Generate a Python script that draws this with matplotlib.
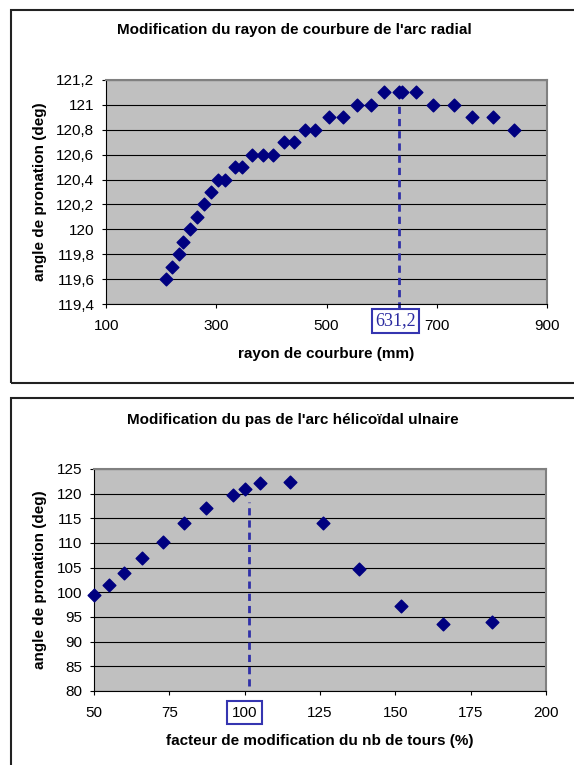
import matplotlib
matplotlib.use("Agg")
import matplotlib.pyplot as plt
from matplotlib.patches import Rectangle

plt.rcParams['font.family'] = ['Liberation Sans', 'DejaVu Sans']
plt.rcParams['font.size'] = 11

# --- graphe 1 : rayon de courbure de l'arc radial ---
rayon = [208, 220, 233, 240, 252, 265, 278, 290, 303, 316, 333, 347, 365, 385, 403, 422,
         441, 460, 479, 504, 530, 555, 581, 605, 631, 637, 663, 694, 732, 764, 802, 840]
angle_rayon = [119.6, 119.7, 119.8, 119.9, 120.0, 120.1, 120.2, 120.3, 120.4, 120.4, 120.5,
               120.5, 120.6, 120.6, 120.6, 120.7, 120.7, 120.8, 120.8, 120.9, 120.9, 121.0,
               121.0, 121.1, 121.1, 121.1, 121.1, 121.0, 121.0, 120.9, 120.9, 120.8]
rayon_ticks = [100, 300, 500, 700, 900]
angle_rayon_ticks = [119.4, 119.6, 119.8, 120.0, 120.2, 120.4, 120.6, 120.8, 121.0, 121.2]
rayon_opt = 631.2
rayon_opt_label = "631,2"

# --- graphe 2 : pas de l'arc helicoidal ulnaire ---
facteur = [50, 55, 60, 66, 73, 80, 87, 96, 100, 105, 115, 126, 138, 152, 166, 182]
angle_facteur = [99.5, 101.4, 104.0, 106.9, 110.3, 114.0, 117.0, 119.8, 121.0, 122.1,
                 122.3, 114.1, 104.7, 97.2, 93.6, 93.9]
facteur_ticks = [50, 75, 100, 125, 150, 175, 200]
angle_facteur_ticks = [80, 85, 90, 95, 100, 105, 110, 115, 120, 125]
facteur_opt = 101.3
facteur_opt_label = "100"

W, H = 574, 765
fig = plt.figure(figsize=(W / 100, H / 100), dpi=100)

def px_axes(left, top, right, bottom):
    return fig.add_axes([left / W, 1 - bottom / H, (right - left) / W, (bottom - top) / H])

def virgule(v):
    return f"{round(v, 1):g}".replace('.', ',')

def style(ax):
    ax.set_facecolor('#C0C0C0')
    ax.grid(axis='y', color='black', linewidth=0.8)
    ax.set_axisbelow(True)
    for s in ['top', 'right']:
        ax.spines[s].set_color('#808080')
        ax.spines[s].set_linewidth(1.5)
    for s in ['left', 'bottom']:
        ax.spines[s].set_color('black')
        ax.spines[s].set_linewidth(0.8)
    ax.tick_params(axis='both', direction='out', length=3, width=0.8, labelsize=11)
    ax.tick_params(axis='x', pad=7.5)
    ax.tick_params(axis='y', pad=5.5)

# cadres des deux graphes
fig.patches.append(Rectangle((11 / W, 1 - 383 / H), 600 / W, 373 / H, transform=fig.transFigure,
                             fill=False, edgecolor='#222222', linewidth=1.5))
fig.patches.append(Rectangle((11 / W, -10 / H), 600 / W, (H - 398 + 10) / H, transform=fig.transFigure,
                             fill=False, edgecolor='#222222', linewidth=1.5))

# graphe 1
ax1 = px_axes(106.2, 80, 546.9, 304)
style(ax1)
ax1.scatter(rayon, angle_rayon, marker='D', s=42, color='#000080', zorder=3, clip_on=False)
ax1.set_xlim(100, 900)
ax1.set_ylim(119.4, 121.2)
ax1.set_xticks(rayon_ticks)
ax1.set_xticklabels([str(t) for t in rayon_ticks])
ax1.set_yticks(angle_rayon_ticks)
ax1.set_yticklabels([virgule(t) for t in angle_rayon_ticks])
ax1.vlines(rayon_opt, 119.36, 121.0, colors='#3030A8', linewidth=2,
           linestyles=(0, (2.6, 1.8)), zorder=2, clip_on=False)
ax1.annotate(rayon_opt_label, xy=(rayon_opt, 119.4), xytext=(-2.5, -12.2), textcoords='offset points',
             ha='center', va='center', fontsize=13, family=['Liberation Serif'], color='#2B2BA0',
             bbox=dict(boxstyle='square,pad=0.18', facecolor='white', edgecolor='#3535B0', linewidth=1.5),
             annotation_clip=False)
ax1.set_xlabel('rayon de courbure (mm)', fontweight='bold', va='center')
ax1.xaxis.set_label_coords(0.5, -0.223)
ax1.set_ylabel('angle de pronation (deg)', fontweight='bold', va='center')
ax1.yaxis.set_label_coords(-0.150, 0.5)
fig.text(294 / W, 1 - 30 / H, "Modification du rayon de courbure de l'arc radial",
         ha='center', va='center', fontweight='bold')

# graphe 2
ax2 = px_axes(94.1, 469, 545.8, 691)
style(ax2)
ax2.scatter(facteur, angle_facteur, marker='D', s=42, color='#000080', zorder=3, clip_on=False)
ax2.set_xlim(50, 200)
ax2.set_ylim(80, 125)
ax2.set_xticks(facteur_ticks)
ax2.set_xticklabels([str(t) for t in facteur_ticks])
ax2.set_yticks(angle_facteur_ticks)
ax2.set_yticklabels([str(t) for t in angle_facteur_ticks])
ax2.vlines(facteur_opt, 81, 118.4, colors='#3030A8', linewidth=2,
           linestyles=(0, (2.6, 1.8)), zorder=2)
for lab in ax2.get_xticklabels():
    if lab.get_text() == facteur_opt_label:
        lab.set_bbox(dict(boxstyle='square,pad=0.3', facecolor='white', edgecolor='#3535B0', linewidth=1.5))
ax2.set_xlabel('facteur de modification du nb de tours (%)', fontweight='bold', va='center')
ax2.xaxis.set_label_coords(0.5, -0.225)
ax2.set_ylabel('angle de pronation (deg)', fontweight='bold', va='center')
ax2.yaxis.set_label_coords(-0.120, 0.5)
fig.text(293 / W, 1 - 420 / H, "Modification du pas de l'arc hélicoïdal ulnaire",
         ha='center', va='center', fontweight='bold')

fig.savefig('out.png', dpi=100)
